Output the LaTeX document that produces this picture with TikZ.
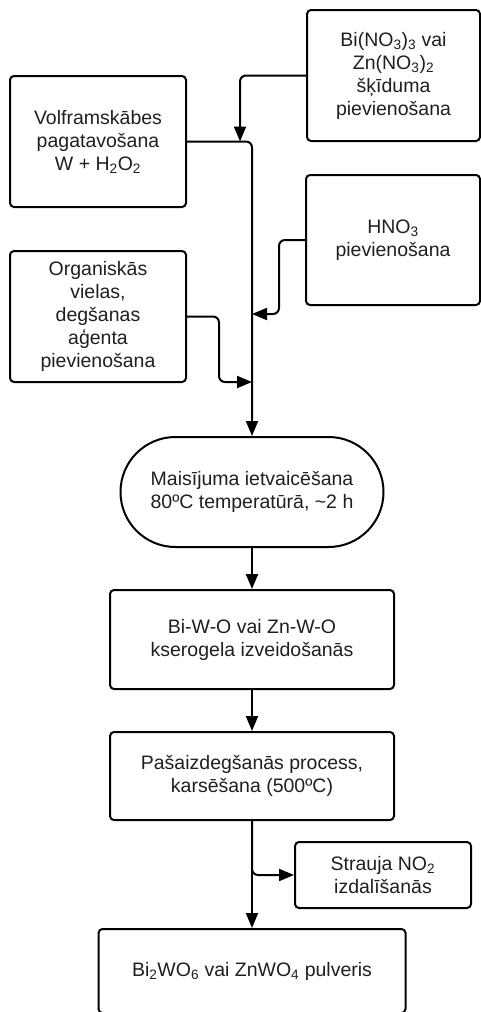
\documentclass[tikz,border=0pt]{standalone}
\usepackage{fontspec}
\setmainfont{Liberation Sans}
\usetikzlibrary{arrows.meta}
\newcommand\chsub[1]{\textsubscript{#1}}
\begin{document}
\begin{tikzpicture}[x=1pt,y=-1pt,
  box/.style={draw, line width=2pt, rounded corners=4pt, align=center,
    inner sep=0pt, font=\fontsize{19.5}{23}\selectfont, text=black!88},
  flow/.style={line width=2pt, rounded corners=6pt},
  tip/.style={-{Triangle[length=15pt,width=12pt]}}]
\useasboundingbox (0,0) rectangle (481,1012);
\clip (0,0) rectangle (481,1012);

% input steps
\node[box, minimum width=173pt, minimum height=131pt] (bi) at (393.5,75.5)
  {Bi(NO\chsub{3})\chsub{3} vai\\Zn(NO\chsub{3})\chsub{2}\\šķīduma\\pievienošana};
\node[box, minimum width=176pt, minimum height=131pt] (vol) at (98,141.5)
  {Volframskābes\\pagatavošana\\W + H\chsub{2}O\chsub{2}};
\node[box, minimum width=174pt, minimum height=130pt] (hno) at (393,240)
  {HNO\chsub{3}\\pievienošana};
\node[box, minimum width=176pt, minimum height=131pt] (org) at (98,316.5)
  {Organiskās\\vielas,\\degšanas\\aģenta\\pievienošana};

% process chain
\node[box, rounded corners=54.9pt, minimum width=263pt, minimum height=110pt] (st) at (252,492)
  {Maisījuma ietvaicēšana\\80ºC temperatūrā, \textasciitilde2 h};
\node[box, minimum width=284pt, minimum height=99pt] (b1) at (252,639.5)
  {Bi-W-O vai Zn-W-O\\kserogela izveidošanās};
\node[box, minimum width=284pt, minimum height=88pt] (b2) at (252,776)
  {Pašaizdegšanās process,\\karsēšana (500ºC)};
\node[box, minimum width=176pt, minimum height=66pt] (str) at (383,875)
  {Strauja NO\chsub{2}\\izdalīšanās};
\node[box, minimum width=307pt, minimum height=84pt] (fin) at (252,971)
  {Bi\chsub{2}WO\chsub{6} vai ZnWO\chsub{4} pulveris};

% junction points on the main line
\coordinate (jbi) at (240,141.5);
\coordinate (jhno) at (252,314);
\coordinate (jorg) at (252,382);

% connectors
\draw[flow, tip] (vol.east) -- (252,141.5) -- (st.north);
\draw[flow, tip] (bi.west) -- (240,75.5) -- (jbi);
\draw[flow, tip] (hno.west) -- (279,240) -- (279,314) -- (jhno);
\draw[flow, tip] (org.east) -- (219,316.5) -- (219,382) -- (jorg);
\draw[flow, tip] (st.south) -- (b1.north);
\draw[flow, tip] (b1.south) -- (b2.north);
\draw[flow, tip] (b2.south) -- (252,875) -- (str.west);
\draw[flow, tip] (b2.south) -- (fin.north);
\end{tikzpicture}
\end{document}
